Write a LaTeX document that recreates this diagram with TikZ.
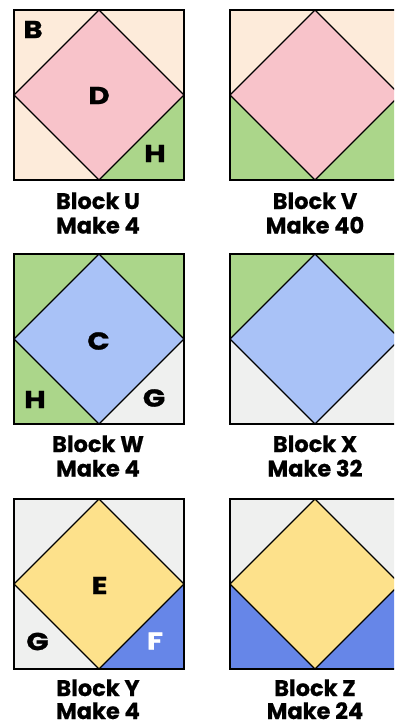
\documentclass[tikz,border=0pt]{standalone}
\usepackage{fontspec}
\setmainfont{Poppins}
\newfontfamily\heavyfont{Poppins}[UprightFont=* Bold, FakeBold=0.6]
\newfontfamily\wideheavyfont{Poppins}[UprightFont=* Bold, FakeBold=1.0, FakeStretch=1.2]
\definecolor{peach}{HTML}{FDEBDA}
\definecolor{pinkd}{HTML}{F8C3CA}
\definecolor{greenq}{HTML}{ABD68A}
\definecolor{lav}{HTML}{A9C2F7}
\definecolor{greyq}{HTML}{EFF0EF}
\definecolor{yel}{HTML}{FDE18B}
\definecolor{blueq}{HTML}{6686E8}
\tikzset{
  piece/.style={draw=black, line width=1.3pt, line join=miter},
  frame/.style={draw=black, line width=2pt},
  caption/.style={font=\fontsize{22.5}{24}\selectfont\heavyfont, anchor=base, inner sep=0pt},
  letter/.style={font=\fontsize{24.5}{25}\selectfont\wideheavyfont, inner sep=0pt}
}
% #1 left x, #2 top y, #3 TL, #4 TR, #5 BL, #6 BR, #7 centre colour
\newcommand{\quiltblk}[7]{%
  \fill[#3] (#1,#2) -- (#1+85,#2) -- (#1,#2+85) -- cycle;
  \fill[#4] (#1+85,#2) -- (#1+170,#2) -- (#1+170,#2+85) -- cycle;
  \fill[#5] (#1,#2+85) -- (#1+85,#2+170) -- (#1,#2+170) -- cycle;
  \fill[#6] (#1+170,#2+85) -- (#1+170,#2+170) -- (#1+85,#2+170) -- cycle;
  \path[piece, fill=#7] (#1+85,#2) -- (#1+170,#2+85) -- (#1+85,#2+170) -- (#1,#2+85) -- cycle;
  \draw[frame] (#1,#2) rectangle (#1+170,#2+170);
}
\begin{document}
\begin{tikzpicture}[x=1pt,y=-1pt]
\useasboundingbox (0,0) rectangle (394,725);
\clip (0,0) rectangle (394,725);
% row 1
\quiltblk{14}{10}{peach}{peach}{peach}{greenq}{pinkd}
\quiltblk{230}{10}{peach}{peach}{greenq}{greenq}{pinkd}
% row 2
\quiltblk{14}{254}{greenq}{greenq}{greenq}{greyq}{lav}
\quiltblk{230}{254}{greenq}{greenq}{greyq}{greyq}{lav}
% row 3
\quiltblk{14}{499}{greyq}{greyq}{greyq}{blueq}{yel}
\quiltblk{230}{499}{greyq}{greyq}{blueq}{blueq}{yel}
% piece letters
\node[letter] (lb) at (33,29.5) {B};
\node[letter] (ld) at (99,95.5) {D};
\node[letter] (lh1) at (155,153.5) {H};
\node[letter] (lc) at (98.5,341) {C};
\node[letter] (lh2) at (35,399.5) {H};
\node[letter] (lg1) at (154,398) {G};
\node[letter] (le) at (99.5,585.5) {E};
\node[letter] (lg2) at (37.5,641.5) {G};
\node[letter, text=white] (lf) at (155,641) {F};
% captions
\node[caption] (cu) at (98,209) {Block U};
\node[caption] (mu) at (98,233.5) {Make 4};
\node[caption] (cv) at (315,209) {Block V};
\node[caption] (mv) at (315,233.5) {Make 40};
\node[caption] (cw) at (98,452) {Block W};
\node[caption] (mw) at (98,476.5) {Make 4};
\node[caption] (cx) at (315,452) {Block X};
\node[caption] (mx) at (315,476.5) {Make 32};
\node[caption] (cy) at (98,696) {Block Y};
\node[caption] (my) at (98,719) {Make 4};
\node[caption] (cz) at (315,696) {Block Z};
\node[caption] (mz) at (315,719) {Make 24};
\end{tikzpicture}
\end{document}
